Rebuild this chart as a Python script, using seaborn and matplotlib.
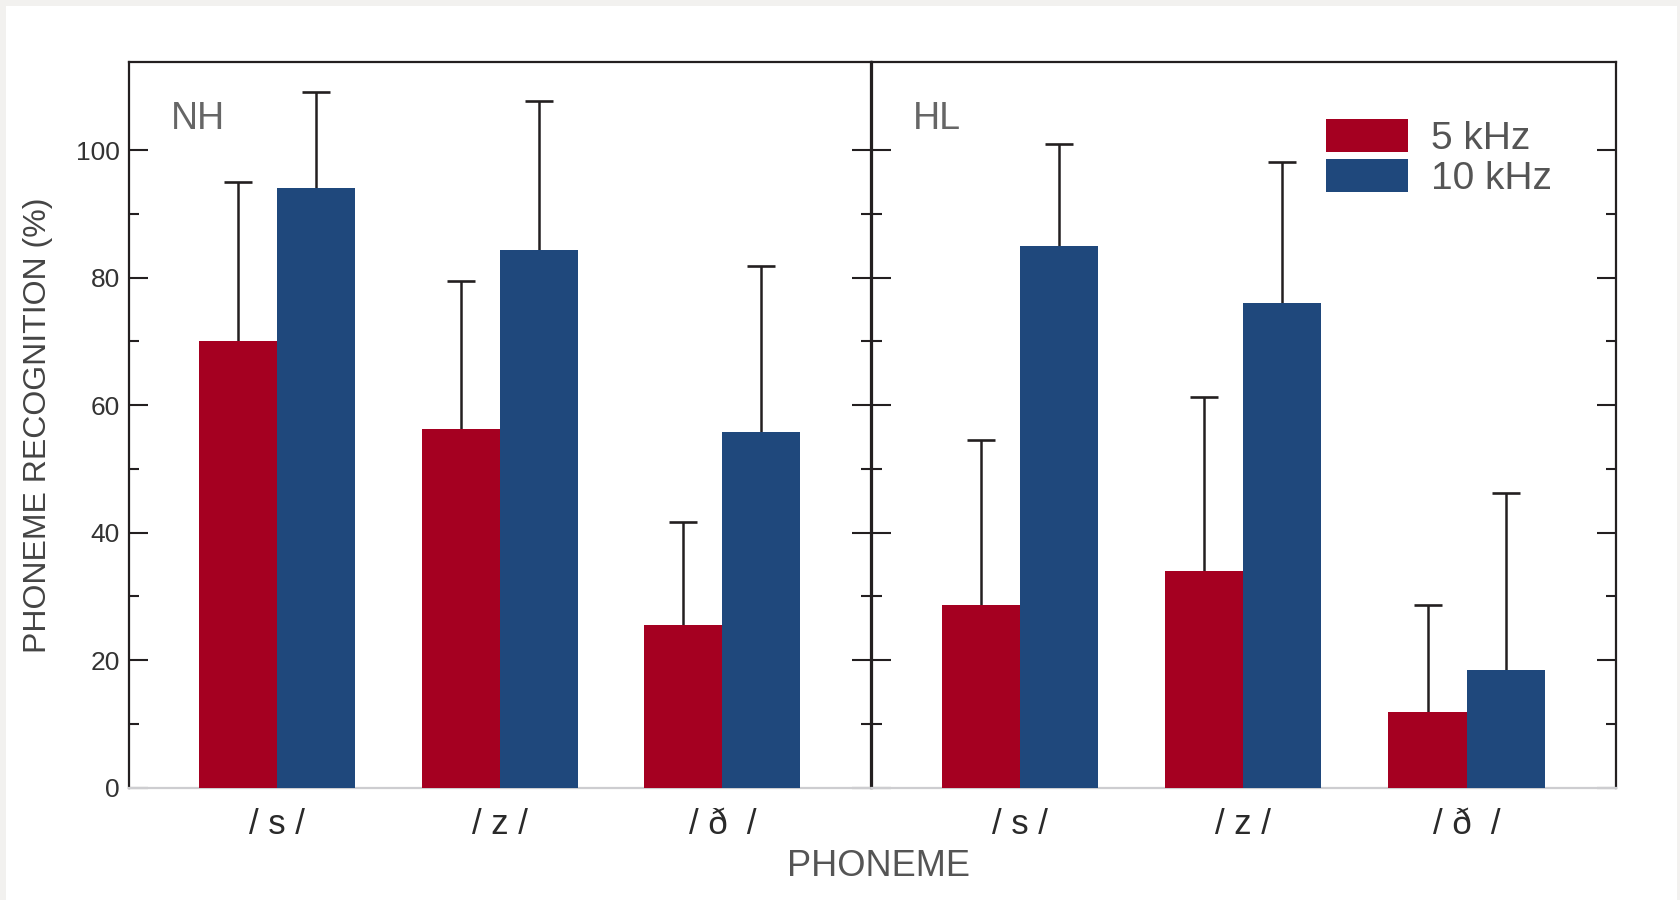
import matplotlib
matplotlib.use("Agg")
import matplotlib.pyplot as plt
from matplotlib.patches import Rectangle, Patch
import numpy as np
import pandas as pd
import seaborn as sns

# Data: mean phoneme recognition (%) and SD, by listener group and bandwidth
phonemes = ["/ s /", "/ z /", "/ ð  /"]
groups = ["NH", "HL"]
bandwidths = ["5 kHz", "10 kHz"]

nh_5k = [70.1, 56.3, 25.5]
nh_10k = [94.1, 84.4, 55.8]
hl_5k = [28.7, 33.9, 11.8]
hl_10k = [84.9, 76.0, 18.5]

nh_5k_sd = [24.9, 23.2, 16.2]
nh_10k_sd = [15.1, 23.3, 26.0]
hl_5k_sd = [25.9, 27.4, 16.9]
hl_10k_sd = [16.1, 22.2, 27.7]

y_major = [0, 20, 40, 60, 80, 100]
y_minor = [10, 30, 50, 70, 90]

RED = "#A50021"
BLUE = "#1F487C"
INK = "#231F20"

sns.set_theme(style="white")
FONT = ["Liberation Sans", "DejaVu Sans"]
plt.rcParams["font.family"] = FONT

rows = []
for grp, series in (("NH", (nh_5k, nh_10k)), ("HL", (hl_5k, hl_10k))):
    for bw, vals in zip(bandwidths, series):
        for ph, v in zip(phonemes, vals):
            rows.append({"group": grp, "bandwidth": bw, "phoneme": ph, "value": v})
df = pd.DataFrame(rows)

sds = {"NH": (nh_5k_sd, nh_10k_sd), "HL": (hl_5k_sd, hl_10k_sd)}

fig = plt.figure(figsize=(16.8, 9), dpi=100, facecolor="#F2F1EF")
fig.patches.append(Rectangle((6 / 1680, 0), (1677 - 6) / 1680, 894 / 900,
                             transform=fig.transFigure, facecolor="white",
                             edgecolor="none", zorder=-10))

ax_l = fig.add_axes([0.077, 0.125, 0.4417, 0.8058])
ax_r = fig.add_axes([0.5188, 0.125, 0.4432, 0.8058], sharey=ax_l)

for ax, grp in ((ax_l, "NH"), (ax_r, "HL")):
    sub = df[df["group"] == grp]
    sns.barplot(data=sub, x="phoneme", y="value", hue="bandwidth",
                order=phonemes, hue_order=bandwidths,
                palette=[RED, BLUE], width=0.7, gap=0, saturation=1,
                errorbar=None, linewidth=0, legend=False, ax=ax, zorder=3)
    # upward-only SD whiskers with a cap at the top
    for cont, sd in zip(ax.containers, sds[grp]):
        xs = np.array([b.get_x() + b.get_width() / 2 for b in cont])
        ys = np.array([b.get_height() for b in cont])
        tops = ys + np.asarray(sd)
        ax.vlines(xs, ys, tops, color=INK, linewidth=1.8, zorder=2)
        ax.plot(xs, tops, linestyle="none", marker="_", markersize=20.5,
                markeredgewidth=1.9, color=INK, zorder=2)
    ax.set_xlim(-0.665, 2.67)
    ax.set_ylim(0, 113.8)
    ax.set_xlabel("")
    ax.set_ylabel("")
    for side in ("top", "left", "right"):
        ax.spines[side].set_color(INK)
        ax.spines[side].set_linewidth(1.6)
        ax.spines[side].set_visible(True)
    ax.spines["bottom"].set_color("#CDCDD0")
    ax.spines["bottom"].set_linewidth(1.6)
    ax.spines["bottom"].set_visible(True)
    ax.yaxis.set_major_locator(plt.FixedLocator(y_major))
    ax.yaxis.set_minor_locator(plt.FixedLocator(y_minor))
    ax.tick_params(axis="y", which="major", direction="in", length=14,
                   width=1.5, color=INK, left=True, right=True, pad=7,
                   labelsize=19, labelcolor="#333333")
    ax.tick_params(axis="y", which="minor", direction="in", length=7,
                   width=1.5, color=INK, left=True, right=True)
    ax.tick_params(axis="x", which="both", bottom=False, top=False,
                   length=0, pad=15, labelsize=25, labelcolor="#2A2A2A")
    ax.text(0.056, 0.947, grp, transform=ax.transAxes, ha="left", va="top",
            fontsize=27, color="#666666")

ax_r.tick_params(axis="y", which="both", labelleft=False)

handles = [Patch(facecolor=RED, edgecolor="none", label=bandwidths[0]),
           Patch(facecolor=BLUE, edgecolor="none", label=bandwidths[1])]
leg = ax_r.legend(handles=handles, loc="upper left",
                  bbox_to_anchor=(1326 / 1680, 1 - 119 / 900),
                  bbox_transform=fig.transFigure, frameon=False,
                  fontsize=28, handlelength=2.1, handleheight=0.92,
                  labelspacing=0.05, handletextpad=0.6, borderpad=0,
                  borderaxespad=0)
for t in leg.get_texts():
    t.set_color("#555555")

fig.text(879 / 1680, 1 - 867 / 900, "PHONEME", ha="center", va="center",
         fontsize=26, color="#555555")
fig.text(38.5 / 1680, 1 - 425 / 900, "PHONEME RECOGNITION (%)", rotation=90,
         ha="center", va="center", fontsize=23, color="#444444")

fig.savefig("out.png", dpi=100, facecolor=fig.get_facecolor())
